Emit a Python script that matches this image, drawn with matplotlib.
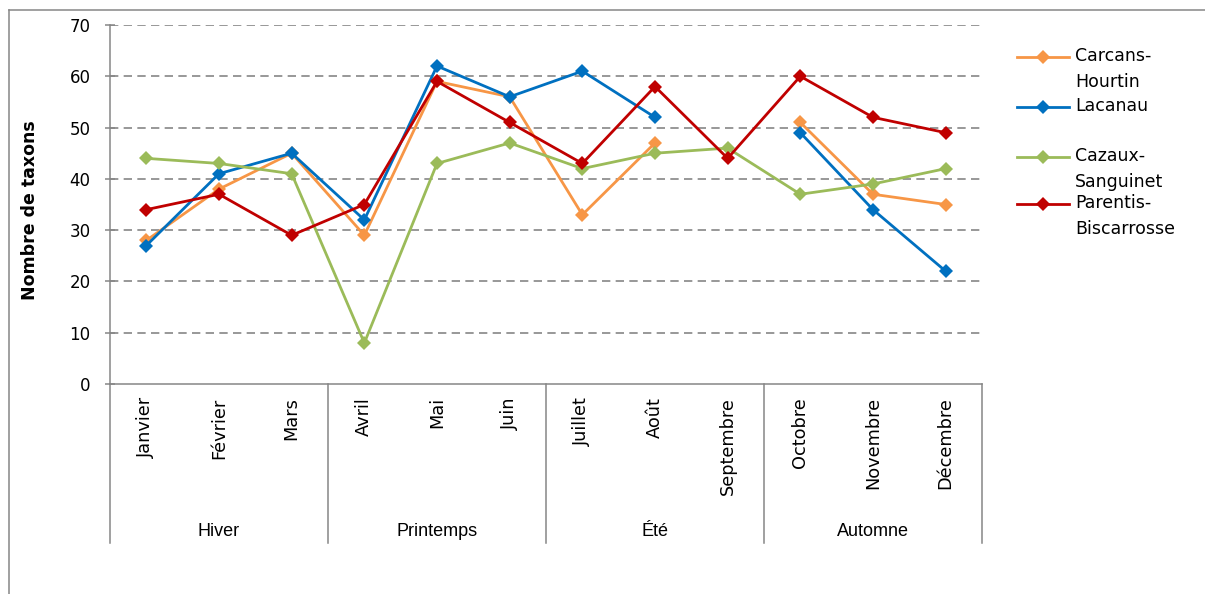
import matplotlib.pyplot as plt
import numpy as np
from matplotlib.lines import Line2D
import matplotlib.transforms as mtransforms
from matplotlib import font_manager

# données
mois = ['Janvier', 'Février', 'Mars', 'Avril', 'Mai', 'Juin', 'Juillet',
        'Août', 'Septembre', 'Octobre', 'Novembre', 'Décembre']
saisons = ['Hiver', 'Printemps', 'Été', 'Automne']
noms = ['Carcans-\nHourtin', 'Lacanau', 'Cazaux-\nSanguinet', 'Parentis-\nBiscarrosse']
carcans = [28, 38, 45, 29, 59, 56, 33, 47, np.nan, 51, 37, 35]
lacanau = [27, 41, 45, 32, 62, 56, 61, 52, np.nan, 49, 34, 22]
cazaux = [44, 43, 41, 8, 43, 47, 42, 45, 46, 37, 39, 42]
parentis = [34, 37, 29, 35, 59, 51, 43, 58, 44, 60, 52, 49]
couleurs = ['#F79646', '#0070C0', '#9BBB59', '#C00000']

# police étroite pour les saisons, si elle existe
police_saison = 'Liberation Sans'
for f in ['Liberation Sans Narrow', 'DejaVu Sans Condensed']:
    try:
        font_manager.findfont(f, fallback_to_default=False)
        police_saison = f
        break
    except ValueError:
        pass
print(police_saison)

W, H = 1205, 594
fig = plt.figure(figsize=(W / 100, H / 100), dpi=100)
ax = fig.add_axes([110 / W, 1 - 384 / H, 872 / W, 359 / H])

x = np.arange(len(mois))
for serie, c in zip([carcans, lacanau, cazaux, parentis], couleurs):
    ax.plot(x, serie, color=c, lw=2.0, marker='D', markersize=7,
            markeredgewidth=0, zorder=3)

ax.set_xlim(-0.5, len(mois) - 0.5)
ax.set_ylim(0, 70)
ax.set_yticks(range(0, 71, 10))
ax.set_xticks([])

gris = '#868686'
for s in ['top', 'right']:
    ax.spines[s].set_visible(False)
for s in ['left', 'bottom']:
    ax.spines[s].set_color(gris)
    ax.spines[s].set_linewidth(1.1)

ax.tick_params(axis='y', direction='inout', length=7.2, width=1.1, color=gris,
               pad=10.5, labelsize=12, labelcolor='black')
for v in range(10, 71, 10):
    ax.axhline(v, color=gris, lw=1.2, dashes=(5, 3.2), zorder=1)

# axe des catégories à deux niveaux
trans = mtransforms.blended_transform_factory(ax.transData, ax.transAxes)
for b in np.arange(-0.5, len(mois), 3):
    ax.add_line(Line2D([b, b], [0, -0.443], transform=trans, color=gris,
                       lw=1.1, clip_on=False))
for i, m in enumerate(mois):
    ax.text(i, -0.037, m, transform=trans, rotation=90, ha='center', va='top',
            fontsize=12.8)
for j, s in enumerate(saisons):
    ax.text(3 * j + 1, -0.41, s, transform=trans, ha='center', va='center',
            fontsize=13, family=police_saison)

fig.text(30 / W, 1 - 210 / H, 'Nombre de taxons', rotation=90, ha='center',
         va='center', fontsize=12.5, fontweight='bold')

# légende
leg_y = [57, 107, 157, 204]
for nom, c, yy in zip(noms, couleurs, leg_y):
    fig.add_artist(Line2D([1017 / W, 1069 / W], [1 - yy / H] * 2, color=c, lw=2.0))
    fig.add_artist(Line2D([1043 / W], [1 - yy / H], color=c, marker='D',
                          markersize=7, markeredgewidth=0))
    fig.text(1075 / W, 1 - (yy - 10) / H, nom, ha='left', va='top',
             fontsize=12.5, linespacing=1.55)

# cadre
fig.add_artist(Line2D([9 / W, 1], [1 - 10 / H] * 2, color=gris, lw=1.1))
fig.add_artist(Line2D([9 / W] * 2, [0, 1 - 10 / H], color=gris, lw=1.1))

fig.savefig('out.png', dpi=100)
